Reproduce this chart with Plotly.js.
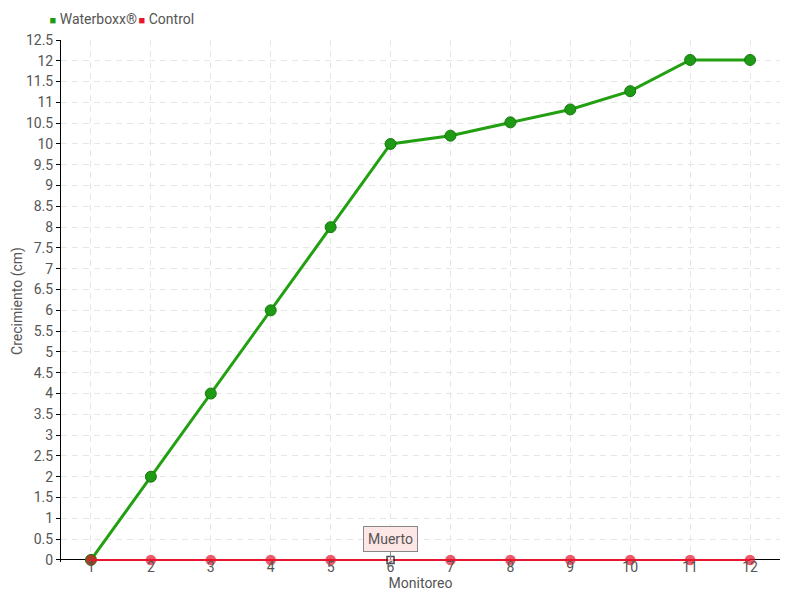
<!DOCTYPE html>
<html>
<head>
<meta charset="utf-8">
<script src="https://cdn.plot.ly/plotly-3.0.1.min.js"></script>
<style>html,body{margin:0;padding:0;background:#fff;}#chart{width:800px;height:600px;}</style>
</head>
<body>
<div id="chart"></div>
<script>
const monitoreo = [1,2,3,4,5,6,7,8,9,10,11,12];
const waterboxx = [0,2,4,6,8,10,10.2,10.52,10.83,11.27,12.02,12.02];
const control = [0,0,0,0,0,0,0,0,0,0,0,0];
const seriesNames = ["Waterboxx®", "Control"];
const seriesColors = ['#1f9a14', '#e8162c'];
const deadIndex = 5;
const deadLabel = "Muerto";

const FONT = "Roboto, 'Liberation Sans Narrow', sans-serif";
const TXT = '#555';

const ctrlSymbols = control.map((v,i)=> i===deadIndex ? 'square' : 'circle');
const ctrlColors = control.map((v,i)=> i===deadIndex ? '#ffffff' : seriesColors[1]);
const ctrlLineColors = control.map((v,i)=> i===deadIndex ? '#000000' : seriesColors[1]);
const ctrlSizes = control.map((v,i)=> i===deadIndex ? 7 : 9);

const legendName = (i) => '<span style="color:' + seriesColors[i] + ';font-size:11px">■</span> ' + seriesNames[i];

const traces = [
  {
    x: monitoreo, y: waterboxx, name: seriesNames[0], type: 'scatter', mode: 'lines+markers',
    line: {color: '#22a012', width: 3},
    marker: {color: seriesColors[0], size: 11, line: {color: '#16780e', width: 1}, symbol: 'circle'},
    showlegend: false, cliponaxis: false
  },
  {
    x: monitoreo, y: control, name: seriesNames[1], type: 'scatter', mode: 'lines+markers',
    line: {color: seriesColors[1], width: 2},
    marker: {color: ctrlColors, size: ctrlSizes, symbol: ctrlSymbols, line: {color: ctrlLineColors, width: 1.5}},
    showlegend: false, cliponaxis: false
  },
  {x: [null], y: [null], name: legendName(0), type: 'scatter', mode: 'markers',
   marker: {color: 'rgba(0,0,0,0)', size: 1}, showlegend: true},
  {x: [null], y: [null], name: legendName(1), type: 'scatter', mode: 'markers',
   marker: {color: 'rgba(0,0,0,0)', size: 1}, showlegend: true},
  {x: [null], y: [null], name: '&nbsp;', type: 'scatter', mode: 'markers',
   marker: {color: 'rgba(0,0,0,0)', size: 1}, showlegend: true}
];

const layout = {
  width: 800, height: 600,
  margin: {l: 61, r: 20, t: 40, b: 38},
  paper_bgcolor: '#ffffff', plot_bgcolor: '#ffffff',
  font: {family: FONT, size: 14, color: TXT},
  showlegend: true,
  legend: {orientation: 'h', x: 0.012, xref: 'container', xanchor: 'left', y: 0.995, yref: 'container', yanchor: 'top',
           bgcolor: 'rgba(0,0,0,0)',
           font: {family: FONT, size: 14, color: TXT}, itemwidth: 30, traceorder: 'normal', tracegroupgap: 0,
           entrywidth: 44, entrywidthmode: 'pixels'},
  xaxis: {
    range: [0.5, 12.5], tickmode: 'array', tickvals: monitoreo, ticktext: monitoreo.map(String),
    showgrid: true, gridcolor: '#e6e6e6', griddash: '6px,5px', gridwidth: 1,
    showline: false, zeroline: false,
    ticks: '', tickfont: {family: FONT, size: 14, color: TXT}, ticklabelstandoff: -5,
    title: {text: 'Monitoreo', standoff: 0, font: {family: FONT, size: 14, color: TXT}},
    fixedrange: true
  },
  yaxis: {
    range: [-0.05, 12.5], tickmode: 'array',
    tickvals: Array.from({length: 26}, (_, i) => i * 0.5),
    showgrid: true, gridcolor: '#e6e6e6', griddash: '6px,5px', gridwidth: 1,
    showline: true, linecolor: '#000', linewidth: 1,
    zeroline: true, zerolinecolor: '#000', zerolinewidth: 1,
    ticks: 'outside', ticklen: 4, tickcolor: '#000',
    tickfont: {family: FONT, size: 14, color: TXT},
    title: {text: 'Crecimiento (cm)', standoff: 0, font: {family: FONT, size: 14, color: TXT}},
    fixedrange: true
  },
  annotations: [{
    x: monitoreo[deadIndex], y: control[deadIndex], xref: 'x', yref: 'y',
    text: deadLabel, showarrow: true, arrowhead: 0, arrowwidth: 1, arrowcolor: '#888',
    ax: 0, ay: -21, bgcolor: '#fde6e6', bordercolor: '#888', borderwidth: 1, borderpad: 4,
    font: {family: FONT, size: 14, color: TXT}
  }]
};

Plotly.newPlot('chart', traces, layout, {displayModeBar: false, staticPlot: true});
</script>
</body>
</html>
